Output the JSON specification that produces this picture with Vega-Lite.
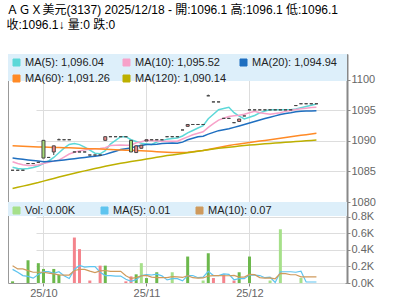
{
"$schema": "https://vega.github.io/schema/vega-lite/v6.json",
"background": "white",
"padding": {"left": 6, "top": 3, "right": 0, "bottom": 0},
"bounds": "flush",
"spacing": 0,
"title": {"text": "ＡＧＸ美元(3137) 2025/12/18 - 開:1096.1 高:1096.1 低:1096.1", "subtitle": "收:1096.1↓ 量:0 跌:0", "anchor": "start", "font": "Liberation Sans, Noto Sans CJK TC", "fontSize": 12, "fontWeight": "normal", "color": "#000", "subtitleFont": "Liberation Sans, Noto Sans CJK TC", "subtitleFontSize": 12, "subtitleColor": "#000", "subtitlePadding": 3, "offset": 22, "dx": -1},
"config": {
  "view": {"stroke": "#999", "strokeWidth": 1},
  "axis": {"gridColor": "#dddddd", "domainColor": "#888", "tickColor": "#888", "labelColor": "#666", "labelFont": "Liberation Sans", "labelFontSize": 11, "labelOverlap": false, "labelFlush": false}
},
"resolve": {"scale": {"color": "independent", "fill": "independent"}, "legend": {"color": "independent", "fill": "independent"}},
"datasets": {"k": [
{"d":"2025-09-22","o":1085.2,"h":1085.2,"l":1085.2,"c":1085.2,"k":"f","m5":1085.7,"m10":1086.6,"m20":1087.2,"m60":1089.2,"m120":1082.2,"v":0.02,"vk":"d","vm5":0.165,"vm10":0.21},
{"d":"2025-09-23","o":1085.2,"h":1085.2,"l":1085.2,"c":1085.2,"k":"f","m5":1085.5,"m10":1086.3,"m20":1087.1,"m60":1089.17,"m120":1082.4,"v":0,"vk":"f","vm5":0.13,"vm10":0.17},
{"d":"2025-09-24","o":1085.2,"h":1085.2,"l":1085.2,"c":1085.2,"k":"f","m5":1085.4,"m10":1086.1,"m20":1087.0,"m60":1089.13,"m120":1082.6,"v":0,"vk":"f","vm5":0.09,"vm10":0.17},
{"d":"2025-09-25","o":1086.3,"h":1086.3,"l":1086.3,"c":1086.3,"k":"f","m5":1085.5,"m10":1086.0,"m20":1086.9,"m60":1089.1,"m120":1082.8,"v":0.275,"vk":"d","vm5":0.08,"vm10":0.15},
{"d":"2025-09-26","o":1086.3,"h":1086.3,"l":1086.3,"c":1086.3,"k":"f","m5":1085.64,"m10":1086.0,"m20":1086.8,"m60":1089.07,"m120":1083.0,"v":0,"vk":"f","vm5":0.059,"vm10":0.13},
{"d":"2025-09-30","o":1086.5,"h":1086.5,"l":1086.5,"c":1086.5,"k":"f","m5":1085.9,"m10":1086.1,"m20":1086.7,"m60":1089.03,"m120":1083.2,"v":0.24,"vk":"d","vm5":0.103,"vm10":0.13},
{"d":"2025-10-01","o":1090.1,"h":1090.1,"l":1087.2,"c":1087.2,"k":"d","m5":1086.3,"m10":1086.3,"m20":1086.6,"m60":1089.0,"m120":1083.42,"v":0.17,"vk":"d","vm5":0.137,"vm10":0.13},
{"d":"2025-10-02","o":1087.3,"h":1087.3,"l":1087.3,"c":1087.3,"k":"f","m5":1086.72,"m10":1086.5,"m20":1086.65,"m60":1088.98,"m120":1083.64,"v":0,"vk":"f","vm5":0.137,"vm10":0.12},
{"d":"2025-10-03","o":1088.2,"h":1089.2,"l":1087.7,"c":1089.2,"k":"u","m5":1087.3,"m10":1086.7,"m20":1086.7,"m60":1088.95,"m120":1083.86,"v":0.17,"vk":"d","vm5":0.116,"vm10":0.11},
{"d":"2025-10-07","o":1090.2,"h":1090.4,"l":1090.2,"c":1090.2,"k":"f","m5":1088.08,"m10":1086.86,"m20":1086.8,"m60":1088.93,"m120":1084.08,"v":0.1,"vk":"d","vm5":0.136,"vm10":0.098},
{"d":"2025-10-08","o":1090.2,"h":1090.2,"l":1090.2,"c":1090.2,"k":"f","m5":1088.82,"m10":1087.36,"m20":1086.9,"m60":1088.9,"m120":1084.3,"v":0,"vk":"f","vm5":0.088,"vm10":0.096},
{"d":"2025-10-09","o":1090.2,"h":1090.2,"l":1090.2,"c":1090.2,"k":"f","m5":1089.42,"m10":1087.86,"m20":1087.0,"m60":1088.88,"m120":1084.5,"v":0,"vk":"f","vm5":0.054,"vm10":0.096},
{"d":"2025-10-13","o":1088.2,"h":1088.2,"l":1088.2,"c":1088.2,"k":"f","m5":1089.6,"m10":1088.16,"m20":1087.1,"m60":1088.85,"m120":1084.7,"v":0.55,"vk":"u","vm5":0.164,"vm10":0.151},
{"d":"2025-10-14","o":1088.2,"h":1088.2,"l":1088.2,"c":1088.2,"k":"f","m5":1089.4,"m10":1088.35,"m20":1087.2,"m60":1088.81,"m120":1084.9,"v":0.41,"vk":"u","vm5":0.212,"vm10":0.164},
{"d":"2025-10-15","o":1088.2,"h":1088.2,"l":1088.2,"c":1088.2,"k":"f","m5":1089.0,"m10":1088.54,"m20":1087.3,"m60":1088.78,"m120":1085.1,"v":0,"vk":"f","vm5":0.192,"vm10":0.164},
{"d":"2025-10-16","o":1087.7,"h":1087.7,"l":1087.7,"c":1087.7,"k":"f","m5":1088.5,"m10":1088.66,"m20":1087.4,"m60":1088.74,"m120":1085.3,"v":0.03,"vk":"u","vm5":0.198,"vm10":0.143},
{"d":"2025-10-17","o":1087.7,"h":1087.7,"l":1087.7,"c":1087.7,"k":"f","m5":1088.0,"m10":1088.71,"m20":1087.5,"m60":1088.71,"m120":1085.48,"v":0,"vk":"f","vm5":0.198,"vm10":0.126},
{"d":"2025-10-20","o":1087.7,"h":1087.7,"l":1087.7,"c":1087.7,"k":"f","m5":1087.9,"m10":1088.75,"m20":1087.6,"m60":1088.67,"m120":1085.66,"v":0.21,"vk":"u","vm5":0.13,"vm10":0.147},
{"d":"2025-10-21","o":1090.1,"h":1090.7,"l":1090.1,"c":1090.7,"k":"u","m5":1088.4,"m10":1088.9,"m20":1087.8,"m60":1088.64,"m120":1085.84,"v":0.21,"vk":"d","vm5":0.09,"vm10":0.151},
{"d":"2025-10-22","o":1090.7,"h":1090.7,"l":1090.7,"c":1090.7,"k":"f","m5":1089.5,"m10":1089.25,"m20":1088.06,"m60":1088.6,"m120":1086.02,"v":0,"vk":"f","vm5":0.09,"vm10":0.141},
{"d":"2025-10-23","o":1090.7,"h":1090.7,"l":1090.7,"c":1090.7,"k":"f","m5":1090.1,"m10":1089.3,"m20":1088.33,"m60":1088.56,"m120":1086.2,"v":0,"vk":"f","vm5":0.084,"vm10":0.141},
{"d":"2025-10-27","o":1090.7,"h":1090.7,"l":1090.7,"c":1090.7,"k":"f","m5":1090.7,"m10":1089.35,"m20":1088.6,"m60":1088.53,"m120":1086.34,"v":0,"vk":"f","vm5":0.084,"vm10":0.141},
{"d":"2025-10-28","o":1090.7,"h":1090.7,"l":1090.7,"c":1090.7,"k":"f","m5":1090.7,"m10":1089.3,"m20":1088.73,"m60":1088.49,"m120":1086.48,"v":0.02,"vk":"u","vm5":0.046,"vm10":0.088},
{"d":"2025-10-29","o":1090.1,"h":1090.1,"l":1088.2,"c":1088.2,"k":"d","m5":1090.2,"m10":1089.3,"m20":1088.83,"m60":1088.46,"m120":1086.62,"v":0.08,"vk":"u","vm5":0.02,"vm10":0.055},
{"d":"2025-10-30","o":1088.1,"h":1089.2,"l":1088.1,"c":1089.2,"k":"u","m5":1089.9,"m10":1089.7,"m20":1089.12,"m60":1088.42,"m120":1086.76,"v":0.105,"vk":"d","vm5":0.041,"vm10":0.066},
{"d":"2025-10-31","o":1088.8,"h":1089.3,"l":1088.8,"c":1089.3,"k":"u","m5":1089.62,"m10":1089.86,"m20":1089.26,"m60":1088.39,"m120":1086.9,"v":0.24,"vk":"f","vm5":0.089,"vm10":0.087},
{"d":"2025-11-03","o":1090.0,"h":1090.2,"l":1090.0,"c":1090.2,"k":"u","m5":1089.52,"m10":1090.11,"m20":1089.41,"m60":1088.35,"m120":1087.04,"v":0.06,"vk":"d","vm5":0.101,"vm10":0.093},
{"d":"2025-11-04","o":1090.2,"h":1090.2,"l":1090.2,"c":1090.2,"k":"f","m5":1089.42,"m10":1090.06,"m20":1089.41,"m60":1088.3,"m120":1087.18,"v":0,"vk":"f","vm5":0.097,"vm10":0.072},
{"d":"2025-11-05","o":1090.2,"h":1090.2,"l":1090.2,"c":1090.2,"k":"f","m5":1089.82,"m10":1090.01,"m20":1089.46,"m60":1088.25,"m120":1087.32,"v":0.13,"vk":"d","vm5":0.107,"vm10":0.064},
{"d":"2025-11-06","o":1090.2,"h":1090.2,"l":1090.2,"c":1090.2,"k":"f","m5":1090.02,"m10":1089.96,"m20":1089.6,"m60":1088.2,"m120":1087.46,"v":0,"vk":"f","vm5":0.086,"vm10":0.064},
{"d":"2025-11-07","o":1090.7,"h":1090.7,"l":1090.7,"c":1090.7,"k":"f","m5":1090.3,"m10":1089.96,"m20":1089.63,"m60":1088.15,"m120":1087.6,"v":0,"vk":"f","vm5":0.038,"vm10":0.064},
{"d":"2025-11-10","o":1090.7,"h":1090.7,"l":1090.7,"c":1090.7,"k":"f","m5":1090.4,"m10":1089.96,"m20":1089.66,"m60":1088.1,"m120":1087.72,"v":0.13,"vk":"f","vm5":0.052,"vm10":0.077},
{"d":"2025-11-11","o":1090.7,"h":1090.7,"l":1090.7,"c":1090.7,"k":"f","m5":1090.5,"m10":1089.96,"m20":1089.63,"m60":1088.12,"m120":1087.84,"v":0,"vk":"f","vm5":0.052,"vm10":0.075},
{"d":"2025-11-12","o":1091.8,"h":1091.8,"l":1091.8,"c":1091.8,"k":"f","m5":1090.82,"m10":1090.32,"m20":1089.81,"m60":1088.13,"m120":1087.96,"v":0,"vk":"f","vm5":0.026,"vm10":0.067},
{"d":"2025-11-13","o":1092.4,"h":1092.7,"l":1092.4,"c":1092.7,"k":"u","m5":1091.32,"m10":1090.67,"m20":1090.19,"m60":1088.15,"m120":1088.08,"v":0.32,"vk":"d","vm5":0.09,"vm10":0.088},
{"d":"2025-11-14","o":1092.7,"h":1092.7,"l":1092.7,"c":1092.7,"k":"f","m5":1091.72,"m10":1091.01,"m20":1090.44,"m60":1088.25,"m120":1088.2,"v":0,"vk":"f","vm5":0.09,"vm10":0.064},
{"d":"2025-11-17","o":1092.7,"h":1092.7,"l":1092.7,"c":1092.7,"k":"f","m5":1092.12,"m10":1091.26,"m20":1090.69,"m60":1088.35,"m120":1088.32,"v":0,"vk":"f","vm5":0.064,"vm10":0.058},
{"d":"2025-11-18","o":1092.7,"h":1092.7,"l":1092.7,"c":1092.7,"k":"f","m5":1092.52,"m10":1091.51,"m20":1090.79,"m60":1088.45,"m120":1088.44,"v":0.03,"vk":"f","vm5":0.07,"vm10":0.061},
{"d":"2025-11-19","o":1097.4,"h":1097.6,"l":1097.4,"c":1097.4,"k":"f","m5":1093.64,"m10":1092.23,"m20":1091.12,"m60":1088.62,"m120":1088.56,"v":0.36,"vk":"d","vm5":0.142,"vm10":0.084},
{"d":"2025-11-20","o":1096.4,"h":1096.4,"l":1096.4,"c":1096.4,"k":"f","m5":1094.38,"m10":1092.85,"m20":1091.41,"m60":1088.78,"m120":1088.68,"v":0.06,"vk":"u","vm5":0.09,"vm10":0.09},
{"d":"2025-11-21","o":1096.4,"h":1096.4,"l":1096.4,"c":1096.4,"k":"f","m5":1095.12,"m10":1093.42,"m20":1091.69,"m60":1088.95,"m120":1088.8,"v":0,"vk":"f","vm5":0.09,"vm10":0.09},
{"d":"2025-11-24","o":1093.7,"h":1093.7,"l":1093.7,"c":1093.7,"k":"f","m5":1095.32,"m10":1093.72,"m20":1091.84,"m60":1089.1,"m120":1088.89,"v":0.105,"vk":"u","vm5":0.111,"vm10":0.088},
{"d":"2025-11-25","o":1093.7,"h":1093.7,"l":1093.7,"c":1093.7,"k":"f","m5":1095.52,"m10":1094.02,"m20":1091.99,"m60":1089.25,"m120":1088.98,"v":0,"vk":"f","vm5":0.105,"vm10":0.088},
{"d":"2025-11-26","o":1093.0,"h":1093.0,"l":1093.0,"c":1093.0,"k":"f","m5":1094.64,"m10":1094.14,"m20":1092.23,"m60":1089.4,"m120":1089.07,"v":0.03,"vk":"u","vm5":0.039,"vm10":0.091},
{"d":"2025-11-27","o":1093.2,"h":1093.6,"l":1093.2,"c":1093.6,"k":"u","m5":1094.08,"m10":1094.23,"m20":1092.45,"m60":1089.52,"m120":1089.16,"v":0.13,"vk":"d","vm5":0.053,"vm10":0.072},
{"d":"2025-11-28","o":1094.1,"h":1094.1,"l":1094.1,"c":1094.1,"k":"f","m5":1093.62,"m10":1094.37,"m20":1092.69,"m60":1089.63,"m120":1089.25,"v":0,"vk":"f","vm5":0.053,"vm10":0.072},
{"d":"2025-12-01","o":1095.1,"h":1095.1,"l":1095.1,"c":1095.1,"k":"f","m5":1093.9,"m10":1094.61,"m20":1092.94,"m60":1089.75,"m120":1089.32,"v":0.32,"vk":"d","vm5":0.096,"vm10":0.104},
{"d":"2025-12-02","o":1095.1,"h":1095.1,"l":1095.1,"c":1095.1,"k":"f","m5":1094.18,"m10":1094.85,"m20":1093.18,"m60":1089.86,"m120":1089.39,"v":0,"vk":"f","vm5":0.096,"vm10":0.101},
{"d":"2025-12-03","o":1095.1,"h":1095.1,"l":1095.1,"c":1095.1,"k":"f","m5":1094.6,"m10":1094.62,"m20":1093.43,"m60":1089.98,"m120":1089.46,"v":0,"vk":"f","vm5":0.09,"vm10":0.065},
{"d":"2025-12-04","o":1095.1,"h":1095.1,"l":1095.1,"c":1095.1,"k":"f","m5":1094.9,"m10":1094.49,"m20":1093.67,"m60":1090.09,"m120":1089.53,"v":0,"vk":"f","vm5":0.064,"vm10":0.059},
{"d":"2025-12-05","o":1095.1,"h":1095.1,"l":1095.1,"c":1095.1,"k":"f","m5":1095.1,"m10":1094.36,"m20":1093.89,"m60":1090.2,"m120":1089.6,"v":0.03,"vk":"f","vm5":0.07,"vm10":0.062},
{"d":"2025-12-08","o":1095.1,"h":1095.1,"l":1095.1,"c":1095.1,"k":"f","m5":1095.1,"m10":1094.5,"m20":1094.11,"m60":1090.32,"m120":1089.66,"v":0,"vk":"f","vm5":0.006,"vm10":0.051},
{"d":"2025-12-09","o":1095.1,"h":1095.1,"l":1095.1,"c":1095.1,"k":"f","m5":1095.1,"m10":1094.64,"m20":1094.33,"m60":1090.44,"m120":1089.72,"v":0.65,"vk":"f","vm5":0.136,"vm10":0.116},
{"d":"2025-12-10","o":1095.1,"h":1095.1,"l":1095.1,"c":1095.1,"k":"f","m5":1095.1,"m10":1094.85,"m20":1094.5,"m60":1090.56,"m120":1089.78,"v":0,"vk":"f","vm5":0.136,"vm10":0.113},
{"d":"2025-12-11","o":1095.1,"h":1095.1,"l":1095.1,"c":1095.1,"k":"f","m5":1095.1,"m10":1095.0,"m20":1094.62,"m60":1090.68,"m120":1089.84,"v":0,"vk":"f","vm5":0.136,"vm10":0.1},
{"d":"2025-12-12","o":1095.8,"h":1095.8,"l":1095.8,"c":1095.8,"k":"f","m5":1095.24,"m10":1095.17,"m20":1094.77,"m60":1090.8,"m120":1089.9,"v":0,"vk":"f","vm5":0.13,"vm10":0.1},
{"d":"2025-12-15","o":1096.1,"h":1096.1,"l":1096.1,"c":1096.1,"k":"f","m5":1095.44,"m10":1095.27,"m20":1094.85,"m60":1090.92,"m120":1089.96,"v":0.06,"vk":"f","vm5":0.142,"vm10":0.074},
{"d":"2025-12-16","o":1096.1,"h":1096.1,"l":1096.1,"c":1096.1,"k":"f","m5":1095.64,"m10":1095.37,"m20":1094.9,"m60":1091.03,"m120":1090.02,"v":0,"vk":"f","vm5":0.012,"vm10":0.074},
{"d":"2025-12-17","o":1096.1,"h":1096.1,"l":1096.1,"c":1096.1,"k":"f","m5":1095.84,"m10":1095.47,"m20":1094.93,"m60":1091.15,"m120":1090.08,"v":0,"vk":"f","vm5":0.012,"vm10":0.074},
{"d":"2025-12-18","o":1096.1,"h":1096.1,"l":1096.1,"c":1096.1,"k":"f","m5":1096.04,"m10":1095.52,"m20":1094.94,"m60":1091.26,"m120":1090.14,"v":0,"vk":"f","vm5":0.012,"vm10":0.074}
]},
"vconcat": [
{
  "width": 339, "height": 148,
  "data": {"name": "k"},
  "layer": [
    {
      "data": {"values": [{"t": 1}]},
      "mark": {"type": "rect", "color": "#ddeffa"},
      "encoding": {
        "x": {"value": 0}, "x2": {"value": "width"},
        "y": {"datum": 1099.84, "type": "quantitative", "scale": {"domain": [1080, 1104.25], "zero": false, "nice": false}, "axis": {"orient": "right", "values": [1080, 1085, 1090, 1095, 1100], "tickCount": 5, "format": "d", "title": null, "grid": true, "tickSize": 3, "labelPadding": 1, "domainWidth": 2}},
        "y2": {"datum": 1104.25}
      }
    },
    {
      "transform": [{"fold": ["m5", "m10", "m20", "m60", "m120"], "as": ["ma", "val"]}],
      "mark": {"type": "line", "strokeWidth": 1.5},
      "encoding": {
        "x": {"field": "d", "type": "ordinal", "scale": {"type": "point", "range": [2, 311]}, "axis": {"values": ["2025-10-01", "2025-11-03", "2025-12-01"], "labels": false, "ticks": false, "domain": false, "title": null, "grid": true}},
        "y": {"field": "val", "type": "quantitative", "scale": {"domain": [1080, 1104.25], "zero": false, "nice": false}, "axis": {"orient": "right", "values": [1080, 1085, 1090, 1095, 1100], "tickCount": 5, "format": "d", "title": null, "grid": true, "tickSize": 3, "labelPadding": 1, "domainWidth": 2}},
        "color": {"field": "ma", "type": "nominal", "scale": {"domain": ["m5", "m10", "m20", "m60", "m120"], "range": ["#5cd8d8", "#f7a1c9", "#1f6fc0", "#ff8a26", "#bdb000"]},
          "legend": {"orient": "top-left", "direction": "horizontal", "title": null, "columns": 3, "gridAlign": "none", "columnPadding": 11, "rowPadding": 4, "offset": 3, "padding": 0, "symbolType": "square", "symbolSize": 49, "symbolStrokeWidth": 1, "labelFont": "Liberation Sans", "labelFontSize": 11, "labelColor": "#222", "labelOffset": 3,
            "labelExpr": "datum.value=='m5'?'MA(5): 1,096.04':datum.value=='m10'?'MA(10): 1,095.52':datum.value=='m20'?'MA(20): 1,094.94':datum.value=='m60'?'MA(60): 1,091.26':'MA(120): 1,090.14'",
            "encode": {"symbols": {"update": {"fill": {"signal": "datum.value=='m5'?'#5cd8d8':datum.value=='m10'?'#f7a1c9':datum.value=='m20'?'#1f6fc0':datum.value=='m60'?'#ff8a26':'#bdb000'"}, "stroke": {"value": "#888"}, "strokeWidth": {"value": 1}, "opacity": {"value": 1}}}}
          }
        }
      }
    },
    {
      "mark": {"type": "rule", "color": "#444", "strokeWidth": 1},
      "encoding": {"x": {"field": "d", "type": "ordinal"}, "y": {"field": "l", "type": "quantitative", "axis": {"orient": "right", "values": [1080, 1085, 1090, 1095, 1100], "tickCount": 5, "format": "d", "title": null, "grid": true, "tickSize": 3, "labelPadding": 1, "domainWidth": 2}}, "y2": {"field": "h"}}
    },
    {
      "mark": {"type": "bar", "size": 3, "stroke": "#444", "strokeWidth": 1},
      "encoding": {
        "x": {"field": "d", "type": "ordinal"},
        "y": {"field": "o", "type": "quantitative", "axis": {"orient": "right", "values": [1080, 1085, 1090, 1095, 1100], "tickCount": 5, "format": "d", "title": null, "grid": true, "tickSize": 3, "labelPadding": 1, "domainWidth": 2}}, "y2": {"field": "c"},
        "fill": {"field": "k", "type": "nominal", "scale": {"domain": ["u", "d", "f"], "range": ["#f08888", "#a6dc78", "#ffffff"]}, "legend": null}
      }
    }
  ]
},
{
  "width": 339, "height": 81,
  "data": {"name": "k"},
  "layer": [
    {
      "data": {"values": [{"t": 1}]},
      "mark": {"type": "rect", "color": "#ddeffa"},
      "encoding": {
        "x": {"value": 0}, "x2": {"value": "width"},
        "y": {"datum": 0.81, "type": "quantitative", "scale": {"domain": [0, 0.98], "nice": false}, "axis": {"orient": "right", "values": [0, 0.2, 0.4, 0.6, 0.8], "tickCount": 5, "labelExpr": "format(datum.value,'.1f')+'K'", "title": null, "grid": true, "tickSize": 3, "labelPadding": 1, "domainWidth": 2}},
        "y2": {"datum": 0.98}
      }
    },
    {
      "transform": [{"filter": "datum.v > 0"}],
      "mark": {"type": "bar", "size": 3},
      "encoding": {
        "x": {"field": "d", "type": "ordinal", "scale": {"type": "point", "range": [2, 311]}, "axis": {"values": ["2025-10-01", "2025-11-03", "2025-12-01"], "labelExpr": "substring(datum.value,2,4)+'/'+substring(datum.value,5,7)", "title": null, "grid": true, "tickSize": 3, "labelPadding": 1, "domain": false, "labelAngle": 0}},
        "y": {"field": "v", "type": "quantitative", "scale": {"domain": [0, 0.98], "nice": false}, "axis": {"orient": "right", "values": [0, 0.2, 0.4, 0.6, 0.8], "tickCount": 5, "labelExpr": "format(datum.value,'.1f')+'K'", "title": null, "grid": true, "tickSize": 3, "labelPadding": 1, "domainWidth": 2}},
        "fill": {"field": "vk", "type": "nominal", "scale": {"domain": ["u", "d", "f"], "range": ["#f4848c", "#6cb84c", "#a6e08a"]}, "legend": null}
      }
    },
    {
      "transform": [{"fold": ["vm5", "vm10"], "as": ["ma", "val"]}],
      "mark": {"type": "line", "strokeWidth": 1.2},
      "encoding": {
        "x": {"field": "d", "type": "ordinal"},
        "y": {"field": "val", "type": "quantitative", "axis": {"orient": "right", "values": [0, 0.2, 0.4, 0.6, 0.8], "tickCount": 5, "labelExpr": "format(datum.value,'.1f')+'K'", "title": null, "grid": true, "tickSize": 3, "labelPadding": 1, "domainWidth": 2}},
        "color": {"field": "ma", "type": "nominal", "scale": {"domain": ["vol", "vm5", "vm10"], "range": ["#a6e08a", "#5ec4ef", "#cf9a5c"]},
          "legend": {"orient": "top-left", "direction": "horizontal", "title": null, "columns": 3, "gridAlign": "none", "columnPadding": 23, "offset": 3, "padding": 0, "symbolType": "square", "symbolSize": 49, "symbolStrokeWidth": 1, "labelFont": "Liberation Sans", "labelFontSize": 11, "labelColor": "#222", "labelOffset": 3,
            "labelExpr": "datum.value=='vol'?'Vol: 0.00K':datum.value=='vm5'?'MA(5): 0.01':'MA(10): 0.07'",
            "encode": {"symbols": {"update": {"fill": {"signal": "datum.value=='vol'?'#a6e08a':datum.value=='vm5'?'#5ec4ef':'#cf9a5c'"}, "stroke": {"value": "#888"}, "strokeWidth": {"value": 1}, "opacity": {"value": 1}}}}
          }
        }
      }
    }
  ]
}
]
}
